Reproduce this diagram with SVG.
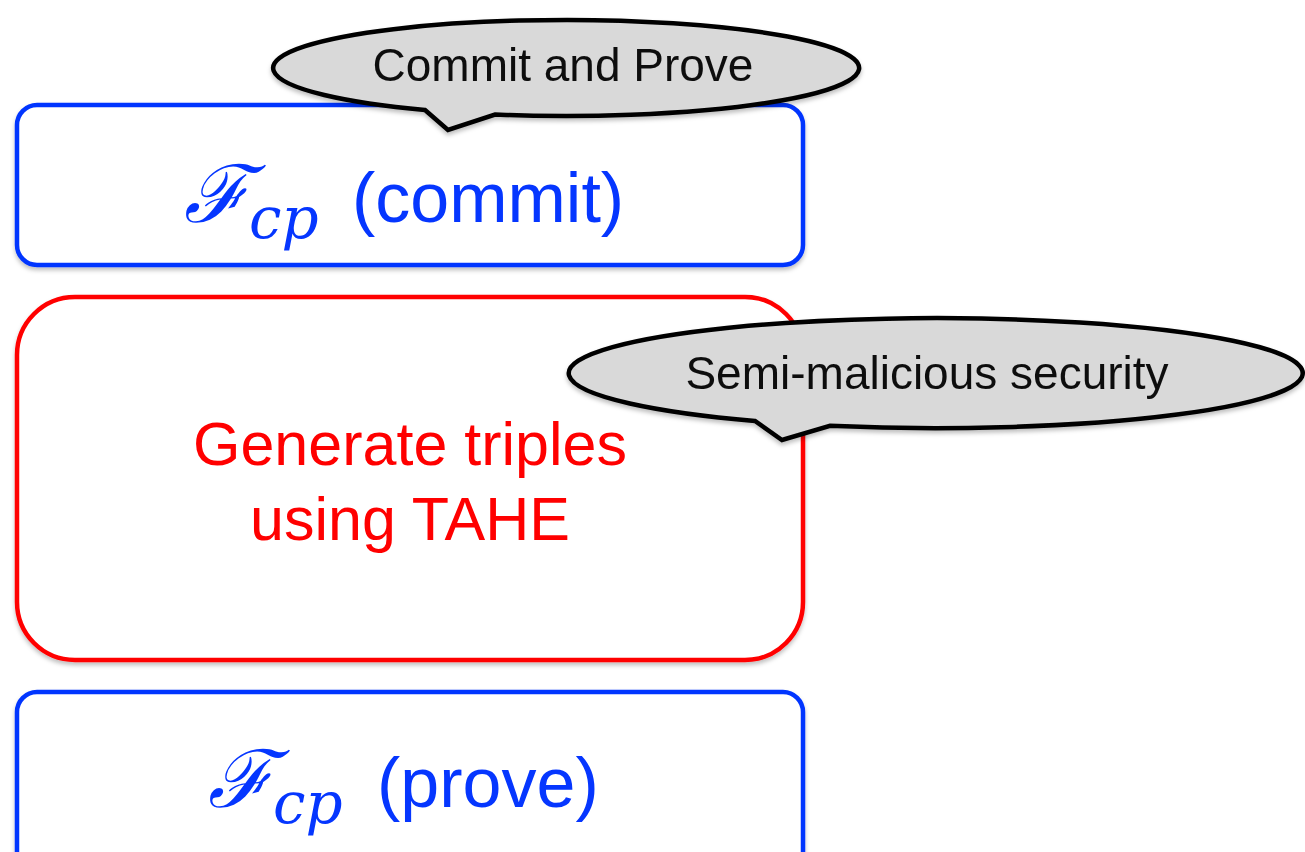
<svg xmlns="http://www.w3.org/2000/svg" width="1305" height="852" viewBox="0 0 1305 852">
  <defs>
    <style>
      .box { fill: #ffffff; stroke-width: 4.5; }
      .blue { stroke: #0536ff; }
      .red { stroke: #ff0000; }
      .lbl { font-family: "Liberation Sans", Arial, sans-serif; }
      .bluetxt { fill: #0536ff; }
      .redtxt { fill: #ff0000; }
      .math { font-family: "DejaVu Serif", "Liberation Serif", serif; font-style: italic; fill: #0536ff; }
      .bubble { fill: #d9d9d9; stroke: #000000; stroke-width: 4.5; stroke-linejoin: miter; }
      .btxt { font-family: "Liberation Sans", Arial, sans-serif; font-size: 46px; fill: #111111; }
    </style>
    <filter id="shadow" x="-5%" y="-10%" width="110%" height="125%">
      <feDropShadow dx="0" dy="3" stdDeviation="2" flood-color="#000000" flood-opacity="0.25"/>
    </filter>
  </defs>

  <!-- commit box -->
  <g id="node-commit">
    <rect class="box blue" x="17" y="105" width="786" height="160" rx="20" filter="url(#shadow)"/>
    <text class="math" x="184" y="222" font-size="80">ℱ</text>
    <text class="math" x="249" y="238" font-size="58">cp</text>
    <text class="lbl bluetxt" x="352" y="222" font-size="70">(commit)</text>
  </g>

  <!-- triple generation box -->
  <g id="node-triples">
    <rect class="box red" x="17" y="297" width="786" height="363" rx="58" filter="url(#shadow)"/>
    <text class="lbl redtxt" x="410" y="465" font-size="61" text-anchor="middle">Generate triples</text>
    <text class="lbl redtxt" x="410" y="540" font-size="61" text-anchor="middle">using TAHE</text>
  </g>

  <!-- prove box -->
  <g id="node-prove">
    <rect class="box blue" x="17" y="692" width="786" height="190" rx="20" filter="url(#shadow)"/>
    <text class="math" x="208" y="807" font-size="80">ℱ</text>
    <text class="math" x="273" y="823" font-size="58">cp</text>
    <text class="lbl bluetxt" x="377" y="807" font-size="70">(prove)</text>
  </g>

  <g id="connectors"/>

  <!-- callout: Commit and Prove -->
  <g id="callout-commit" filter="url(#shadow)">
    <path class="bubble" d="M 425 110 A 293 48 0 1 1 495 114.5 L 448 130 Z"/>
    <text class="btxt" x="563" y="81" text-anchor="middle">Commit and Prove</text>
  </g>

  <!-- callout: Semi-malicious security -->
  <g id="callout-security" filter="url(#shadow)">
    <path class="bubble" d="M 755 421 A 367 55 0 1 1 830 425.8 L 782 440 Z"/>
    <text class="btxt" x="927" y="389" text-anchor="middle">Semi-malicious security</text>
  </g>
</svg>
